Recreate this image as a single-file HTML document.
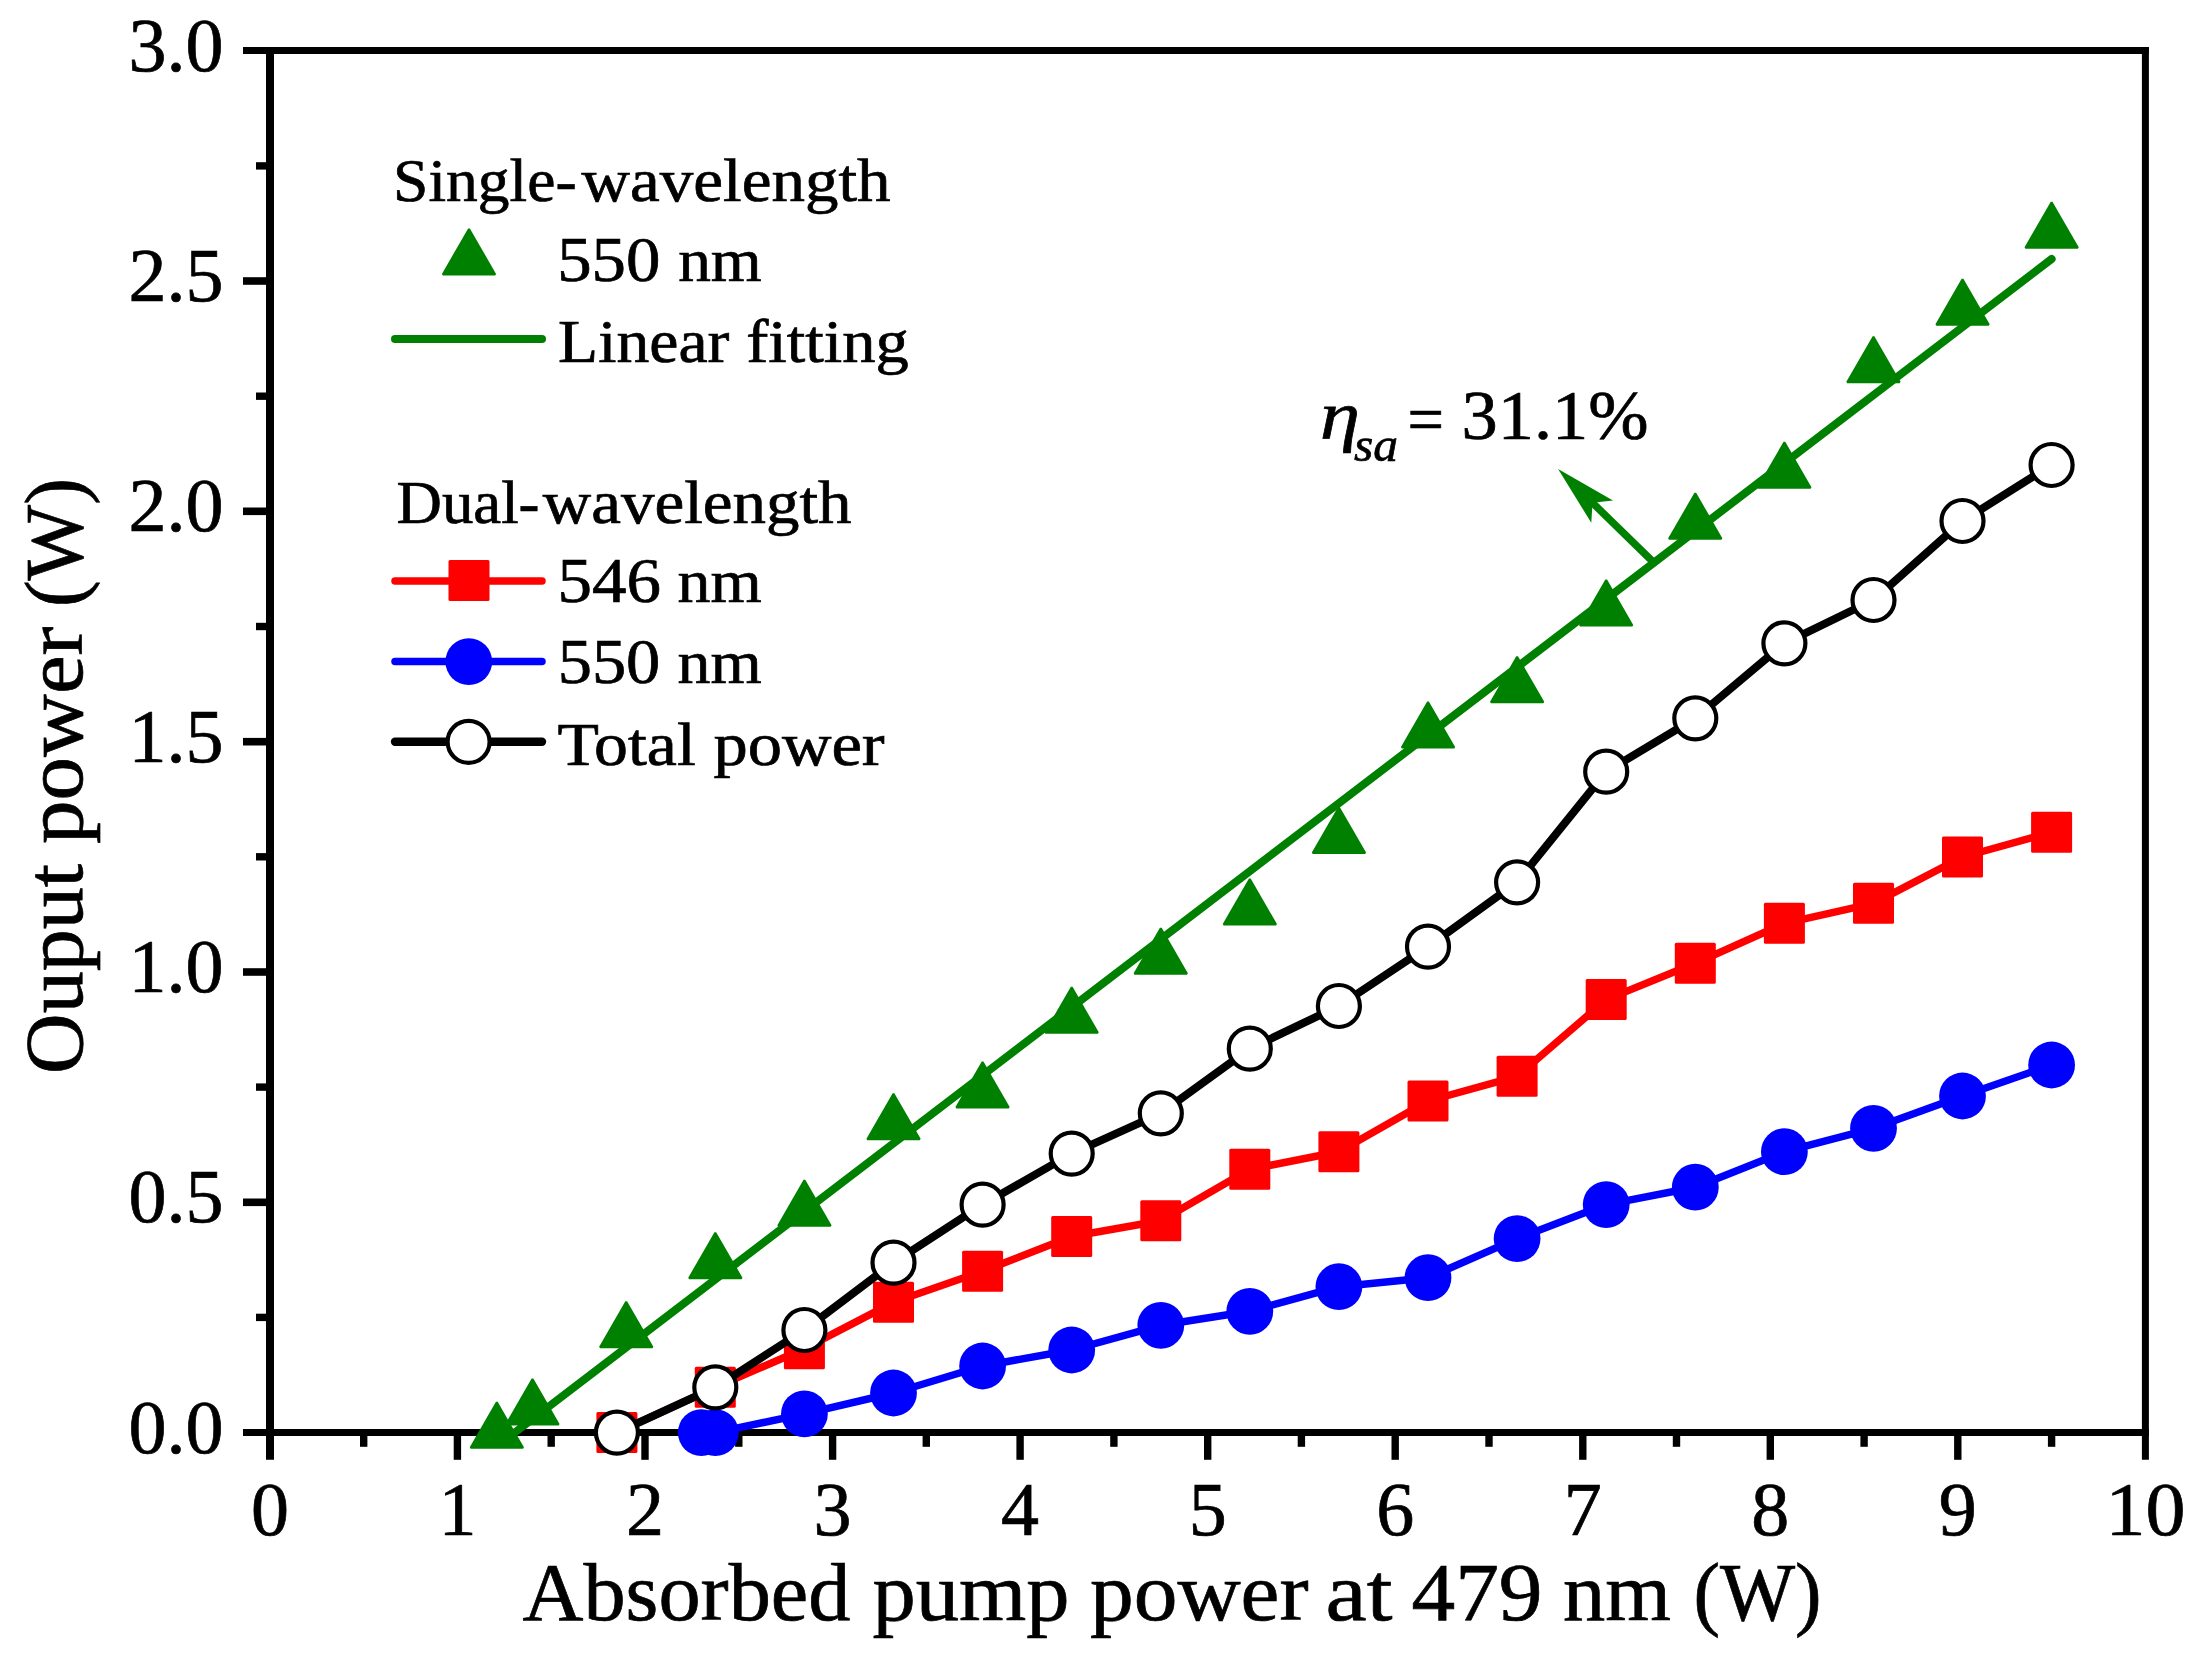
<!DOCTYPE html>
<html lang="en"><head><meta charset="utf-8"><title>Output power vs absorbed pump power</title>
<style>html,body{margin:0;padding:0;background:#fff}body{width:2205px;height:1661px;overflow:hidden}svg{display:block}text{font-family:"Liberation Serif", serif;fill:#000;stroke:#000;stroke-width:0.7px}</style></head><body>
<svg width="2205" height="1661" viewBox="0 0 2205 1661">
<rect width="2205" height="1661" fill="#fff"/>
<g stroke="#000" fill="none" stroke-linecap="butt">
<line x1="270" y1="46.95" x2="270" y2="1459.8" stroke-width="8"/>
<line x1="2145.4" y1="46.95" x2="2145.4" y2="1459.8" stroke-width="7"/>
<line x1="243" y1="50.5" x2="2148.9" y2="50.5" stroke-width="7.1"/>
<line x1="243" y1="1432.6" x2="2148.9" y2="1432.6" stroke-width="7"/>
<line x1="256" y1="1317.4" x2="268" y2="1317.4" stroke-width="7.4"/>
<line x1="243" y1="1202.3" x2="268" y2="1202.3" stroke-width="7.6"/>
<line x1="256" y1="1087.1" x2="268" y2="1087.1" stroke-width="7.4"/>
<line x1="243" y1="972.0" x2="268" y2="972.0" stroke-width="7.6"/>
<line x1="256" y1="856.8" x2="268" y2="856.8" stroke-width="7.4"/>
<line x1="243" y1="741.7" x2="268" y2="741.7" stroke-width="7.6"/>
<line x1="256" y1="626.5" x2="268" y2="626.5" stroke-width="7.4"/>
<line x1="243" y1="511.3" x2="268" y2="511.3" stroke-width="7.6"/>
<line x1="256" y1="396.2" x2="268" y2="396.2" stroke-width="7.4"/>
<line x1="243" y1="281.0" x2="268" y2="281.0" stroke-width="7.6"/>
<line x1="256" y1="165.9" x2="268" y2="165.9" stroke-width="7.4"/>
<line x1="363.7" y1="1434" x2="363.7" y2="1446.8" stroke-width="7.4"/>
<line x1="457.4" y1="1434" x2="457.4" y2="1459.8" stroke-width="7.4"/>
<line x1="551.2" y1="1434" x2="551.2" y2="1446.8" stroke-width="7.4"/>
<line x1="645.0" y1="1434" x2="645.0" y2="1459.8" stroke-width="7.4"/>
<line x1="738.8" y1="1434" x2="738.8" y2="1446.8" stroke-width="7.4"/>
<line x1="832.6" y1="1434" x2="832.6" y2="1459.8" stroke-width="7.4"/>
<line x1="926.3" y1="1434" x2="926.3" y2="1446.8" stroke-width="7.4"/>
<line x1="1020.1" y1="1434" x2="1020.1" y2="1459.8" stroke-width="7.4"/>
<line x1="1113.9" y1="1434" x2="1113.9" y2="1446.8" stroke-width="7.4"/>
<line x1="1207.7" y1="1434" x2="1207.7" y2="1459.8" stroke-width="7.4"/>
<line x1="1301.4" y1="1434" x2="1301.4" y2="1446.8" stroke-width="7.4"/>
<line x1="1395.2" y1="1434" x2="1395.2" y2="1459.8" stroke-width="7.4"/>
<line x1="1489.0" y1="1434" x2="1489.0" y2="1446.8" stroke-width="7.4"/>
<line x1="1582.8" y1="1434" x2="1582.8" y2="1459.8" stroke-width="7.4"/>
<line x1="1676.5" y1="1434" x2="1676.5" y2="1446.8" stroke-width="7.4"/>
<line x1="1770.3" y1="1434" x2="1770.3" y2="1459.8" stroke-width="7.4"/>
<line x1="1864.1" y1="1434" x2="1864.1" y2="1446.8" stroke-width="7.4"/>
<line x1="1957.8" y1="1434" x2="1957.8" y2="1459.8" stroke-width="7.4"/>
<line x1="2051.6" y1="1434" x2="2051.6" y2="1446.8" stroke-width="7.4"/>
</g>
<text x="128.5" y="1452.6" font-size="76" textLength="95" lengthAdjust="spacingAndGlyphs">0.0</text>
<text x="128.5" y="1222.3" font-size="76" textLength="95" lengthAdjust="spacingAndGlyphs">0.5</text>
<text x="128.5" y="992.0" font-size="76" textLength="95" lengthAdjust="spacingAndGlyphs">1.0</text>
<text x="128.5" y="761.7" font-size="76" textLength="95" lengthAdjust="spacingAndGlyphs">1.5</text>
<text x="128.5" y="531.3" font-size="76" textLength="95" lengthAdjust="spacingAndGlyphs">2.0</text>
<text x="128.5" y="301.0" font-size="76" textLength="95" lengthAdjust="spacingAndGlyphs">2.5</text>
<text x="128.5" y="70.7" font-size="76" textLength="95" lengthAdjust="spacingAndGlyphs">3.0</text>
<text x="250.9" y="1535.4" font-size="76" textLength="38" lengthAdjust="spacingAndGlyphs">0</text>
<text x="438.4" y="1535.4" font-size="76" textLength="38" lengthAdjust="spacingAndGlyphs">1</text>
<text x="626.0" y="1535.4" font-size="76" textLength="38" lengthAdjust="spacingAndGlyphs">2</text>
<text x="813.6" y="1535.4" font-size="76" textLength="38" lengthAdjust="spacingAndGlyphs">3</text>
<text x="1001.1" y="1535.4" font-size="76" textLength="38" lengthAdjust="spacingAndGlyphs">4</text>
<text x="1188.7" y="1535.4" font-size="76" textLength="38" lengthAdjust="spacingAndGlyphs">5</text>
<text x="1376.2" y="1535.4" font-size="76" textLength="38" lengthAdjust="spacingAndGlyphs">6</text>
<text x="1563.8" y="1535.4" font-size="76" textLength="38" lengthAdjust="spacingAndGlyphs">7</text>
<text x="1751.3" y="1535.4" font-size="76" textLength="38" lengthAdjust="spacingAndGlyphs">8</text>
<text x="1938.8" y="1535.4" font-size="76" textLength="38" lengthAdjust="spacingAndGlyphs">9</text>
<text x="2105.4" y="1535.4" font-size="76" textLength="80" lengthAdjust="spacingAndGlyphs">10</text>
<text y="1620" font-size="82"><tspan x="522.5" textLength="328.0" lengthAdjust="spacingAndGlyphs">Absorbed</tspan> <tspan x="872.5" textLength="197.0" lengthAdjust="spacingAndGlyphs">pump</tspan> <tspan x="1090.0" textLength="218.5" lengthAdjust="spacingAndGlyphs">power</tspan> <tspan x="1325.6" textLength="66.9" lengthAdjust="spacingAndGlyphs">at</tspan> <tspan x="1411.5" textLength="131.0" lengthAdjust="spacingAndGlyphs">479</tspan> <tspan x="1563.0" textLength="108.0" lengthAdjust="spacingAndGlyphs">nm</tspan> <tspan x="1693.4" textLength="128.1" lengthAdjust="spacingAndGlyphs">(W)</tspan></text>
<text transform="translate(81.5 1075) rotate(-90)" font-size="83"><tspan x="1.0" textLength="210.0" lengthAdjust="spacingAndGlyphs">Ouput</tspan> <tspan x="231.0" textLength="217.5" lengthAdjust="spacingAndGlyphs">power</tspan> <tspan x="467.9" textLength="129.1" lengthAdjust="spacingAndGlyphs">(W)</tspan></text>
<text y="201.1" font-size="61.5"><tspan x="393.1" font-size="61.5" textLength="183.44" lengthAdjust="spacingAndGlyphs">Single-</tspan><tspan x="581.58" font-size="61.5" textLength="309.05" lengthAdjust="spacingAndGlyphs">wavelength</tspan></text>
<text y="280.8" font-size="64"><tspan x="557.15" font-size="64" textLength="103.22" lengthAdjust="spacingAndGlyphs">550</tspan> <tspan x="678.15" font-size="61.5" textLength="83.62" lengthAdjust="spacingAndGlyphs">nm</tspan></text>
<text y="362" font-size="61.5"><tspan x="558.06" font-size="61.5" textLength="171.37" lengthAdjust="spacingAndGlyphs">Linear</tspan> <tspan x="746.2" font-size="61.5" textLength="162.72" lengthAdjust="spacingAndGlyphs">fitting</tspan></text>
<text y="522.8" font-size="61.5"><tspan x="396.54" font-size="61.5" textLength="142.98" lengthAdjust="spacingAndGlyphs">Dual-</tspan><tspan x="542.88" font-size="61.5" textLength="308.65" lengthAdjust="spacingAndGlyphs">wavelength</tspan></text>
<text y="601.6" font-size="64"><tspan x="557.64" font-size="64" textLength="103.46" lengthAdjust="spacingAndGlyphs">546</tspan> <tspan x="677.64" font-size="61.5" textLength="84.14" lengthAdjust="spacingAndGlyphs">nm</tspan></text>
<text y="683.4" font-size="64"><tspan x="557.67" font-size="64" textLength="102.68" lengthAdjust="spacingAndGlyphs">550</tspan> <tspan x="677.64" font-size="61.5" textLength="84.14" lengthAdjust="spacingAndGlyphs">nm</tspan></text>
<text y="764.8" font-size="61.5"><tspan x="557.42" font-size="61.5" textLength="138.38" lengthAdjust="spacingAndGlyphs">Total</tspan> <tspan x="713.45" font-size="61.5" textLength="171.21" lengthAdjust="spacingAndGlyphs">power</tspan></text>
<polygon points="469.0,228.9 495.2,274.4 442.8,274.4" fill="#008000" stroke="#008000" stroke-width="2" stroke-linejoin="bevel"/>
<line x1="395" y1="339" x2="542" y2="339" stroke="#008000" stroke-width="8" stroke-linecap="round"/>
<line x1="395" y1="581" x2="542" y2="581" stroke="#ff0000" stroke-width="7.5" stroke-linecap="round"/>
<rect x="448.5" y="560.0" width="41" height="41" rx="1.5" fill="#ff0000"/>
<line x1="395" y1="661.5" x2="542" y2="661.5" stroke="#0000ff" stroke-width="7.5" stroke-linecap="round"/>
<circle cx="468.8" cy="661.6" r="23.4" fill="#0000ff"/>
<line x1="395" y1="741.8" x2="542" y2="741.8" stroke="#000" stroke-width="8.4" stroke-linecap="round"/>
<circle cx="468.6" cy="741.8" r="21" fill="#fff" stroke="#000" stroke-width="4.2"/>
<polygon points="496.8,1402.3 523.1,1447.8 470.6,1447.8" fill="#008000" stroke="#008000" stroke-width="2" stroke-linejoin="bevel"/>
<polygon points="532.5,1379.0 558.7,1424.5 506.2,1424.5" fill="#008000" stroke="#008000" stroke-width="2" stroke-linejoin="bevel"/>
<polygon points="626.2,1301.7 652.5,1347.2 600.0,1347.2" fill="#008000" stroke="#008000" stroke-width="2" stroke-linejoin="bevel"/>
<polygon points="715.3,1232.7 741.6,1278.2 689.1,1278.2" fill="#008000" stroke="#008000" stroke-width="2" stroke-linejoin="bevel"/>
<polygon points="804.4,1180.3 830.7,1225.8 778.2,1225.8" fill="#008000" stroke="#008000" stroke-width="2" stroke-linejoin="bevel"/>
<polygon points="893.5,1093.7 919.8,1139.2 867.3,1139.2" fill="#008000" stroke="#008000" stroke-width="2" stroke-linejoin="bevel"/>
<polygon points="982.6,1062.0 1008.8,1107.5 956.3,1107.5" fill="#008000" stroke="#008000" stroke-width="2" stroke-linejoin="bevel"/>
<polygon points="1071.7,987.3 1097.9,1032.8 1045.4,1032.8" fill="#008000" stroke="#008000" stroke-width="2" stroke-linejoin="bevel"/>
<polygon points="1160.8,928.3 1187.0,973.8 1134.5,973.8" fill="#008000" stroke="#008000" stroke-width="2" stroke-linejoin="bevel"/>
<polygon points="1249.8,879.0 1276.1,924.5 1223.6,924.5" fill="#008000" stroke="#008000" stroke-width="2" stroke-linejoin="bevel"/>
<polygon points="1338.9,807.4 1365.2,852.9 1312.7,852.9" fill="#008000" stroke="#008000" stroke-width="2" stroke-linejoin="bevel"/>
<polygon points="1428.0,702.1 1454.3,747.6 1401.8,747.6" fill="#008000" stroke="#008000" stroke-width="2" stroke-linejoin="bevel"/>
<polygon points="1517.1,656.7 1543.4,702.2 1490.9,702.2" fill="#008000" stroke="#008000" stroke-width="2" stroke-linejoin="bevel"/>
<polygon points="1606.2,579.9 1632.4,625.4 1579.9,625.4" fill="#008000" stroke="#008000" stroke-width="2" stroke-linejoin="bevel"/>
<polygon points="1695.3,493.3 1721.5,538.8 1669.0,538.8" fill="#008000" stroke="#008000" stroke-width="2" stroke-linejoin="bevel"/>
<polygon points="1784.4,442.3 1810.6,487.8 1758.1,487.8" fill="#008000" stroke="#008000" stroke-width="2" stroke-linejoin="bevel"/>
<polygon points="1873.5,336.7 1899.7,382.2 1847.2,382.2" fill="#008000" stroke="#008000" stroke-width="2" stroke-linejoin="bevel"/>
<polygon points="1962.5,279.3 1988.8,324.8 1936.3,324.8" fill="#008000" stroke="#008000" stroke-width="2" stroke-linejoin="bevel"/>
<polygon points="2051.6,202.3 2077.9,247.8 2025.4,247.8" fill="#008000" stroke="#008000" stroke-width="2" stroke-linejoin="bevel"/>
<line x1="514.7" y1="1432.6" x2="2051.6" y2="259.0" stroke="#008000" stroke-width="8" stroke-linecap="round"/>
<line x1="1653.2" y1="562" x2="1585" y2="495.5" stroke="#008000" stroke-width="7.4"/>
<polygon points="1558.1,469.1 1613,500.6 1592.5,502.8 1591.3,522.8" fill="#008000"/>
<polyline fill="none" stroke="#ff0000" stroke-width="7.5" stroke-linejoin="round" points="616.9,1432.6 715.3,1387.3 804.4,1348.7 893.5,1302.3 982.6,1271.3 1071.7,1236.5 1160.8,1220.7 1249.8,1169.3 1338.9,1151.7 1428.0,1101.0 1517.1,1076.3 1606.2,999.6 1695.3,963.3 1784.4,923.3 1873.5,903.3 1962.5,857.0 2051.6,832.3"/>
<rect x="596.4" y="1412.1" width="41" height="41" rx="1.5" fill="#ff0000"/>
<rect x="694.8" y="1366.8" width="41" height="41" rx="1.5" fill="#ff0000"/>
<rect x="783.9" y="1328.2" width="41" height="41" rx="1.5" fill="#ff0000"/>
<rect x="873.0" y="1281.8" width="41" height="41" rx="1.5" fill="#ff0000"/>
<rect x="962.1" y="1250.8" width="41" height="41" rx="1.5" fill="#ff0000"/>
<rect x="1051.2" y="1216.0" width="41" height="41" rx="1.5" fill="#ff0000"/>
<rect x="1140.3" y="1200.2" width="41" height="41" rx="1.5" fill="#ff0000"/>
<rect x="1229.3" y="1148.8" width="41" height="41" rx="1.5" fill="#ff0000"/>
<rect x="1318.4" y="1131.2" width="41" height="41" rx="1.5" fill="#ff0000"/>
<rect x="1407.5" y="1080.5" width="41" height="41" rx="1.5" fill="#ff0000"/>
<rect x="1496.6" y="1055.8" width="41" height="41" rx="1.5" fill="#ff0000"/>
<rect x="1585.7" y="979.1" width="41" height="41" rx="1.5" fill="#ff0000"/>
<rect x="1674.8" y="942.8" width="41" height="41" rx="1.5" fill="#ff0000"/>
<rect x="1763.9" y="902.8" width="41" height="41" rx="1.5" fill="#ff0000"/>
<rect x="1853.0" y="882.8" width="41" height="41" rx="1.5" fill="#ff0000"/>
<rect x="1942.0" y="836.5" width="41" height="41" rx="1.5" fill="#ff0000"/>
<rect x="2031.1" y="811.8" width="41" height="41" rx="1.5" fill="#ff0000"/>
<polyline fill="none" stroke="#0000ff" stroke-width="7.5" stroke-linejoin="round" points="701.3,1432.6 715.3,1432.6 804.4,1413.9 893.5,1393.0 982.6,1366.0 1071.7,1350.0 1160.8,1325.3 1249.8,1311.3 1338.9,1286.7 1428.0,1277.7 1517.1,1238.6 1606.2,1204.6 1695.3,1187.2 1784.4,1151.7 1873.5,1128.3 1962.5,1096.0 2051.6,1065.0"/>
<circle cx="701.3" cy="1432.6" r="23.4" fill="#0000ff"/>
<circle cx="715.3" cy="1432.6" r="23.4" fill="#0000ff"/>
<circle cx="804.4" cy="1413.9" r="23.4" fill="#0000ff"/>
<circle cx="893.5" cy="1393.0" r="23.4" fill="#0000ff"/>
<circle cx="982.6" cy="1366.0" r="23.4" fill="#0000ff"/>
<circle cx="1071.7" cy="1350.0" r="23.4" fill="#0000ff"/>
<circle cx="1160.8" cy="1325.3" r="23.4" fill="#0000ff"/>
<circle cx="1249.8" cy="1311.3" r="23.4" fill="#0000ff"/>
<circle cx="1338.9" cy="1286.7" r="23.4" fill="#0000ff"/>
<circle cx="1428.0" cy="1277.7" r="23.4" fill="#0000ff"/>
<circle cx="1517.1" cy="1238.6" r="23.4" fill="#0000ff"/>
<circle cx="1606.2" cy="1204.6" r="23.4" fill="#0000ff"/>
<circle cx="1695.3" cy="1187.2" r="23.4" fill="#0000ff"/>
<circle cx="1784.4" cy="1151.7" r="23.4" fill="#0000ff"/>
<circle cx="1873.5" cy="1128.3" r="23.4" fill="#0000ff"/>
<circle cx="1962.5" cy="1096.0" r="23.4" fill="#0000ff"/>
<circle cx="2051.6" cy="1065.0" r="23.4" fill="#0000ff"/>
<polyline fill="none" stroke="#000" stroke-width="8" stroke-linejoin="round" points="616.9,1432.6 715.3,1387.3 804.4,1330.0 893.5,1262.7 982.6,1204.7 1071.7,1153.6 1160.8,1113.3 1249.8,1048.7 1338.9,1006.0 1428.0,946.7 1517.1,882.3 1606.2,771.7 1695.3,718.3 1784.4,643.3 1873.5,600.0 1962.5,521.0 2051.6,465.0"/>
<circle cx="616.9" cy="1432.6" r="21" fill="#fff" stroke="#000" stroke-width="4.2"/>
<circle cx="715.3" cy="1387.3" r="21" fill="#fff" stroke="#000" stroke-width="4.2"/>
<circle cx="804.4" cy="1330.0" r="21" fill="#fff" stroke="#000" stroke-width="4.2"/>
<circle cx="893.5" cy="1262.7" r="21" fill="#fff" stroke="#000" stroke-width="4.2"/>
<circle cx="982.6" cy="1204.7" r="21" fill="#fff" stroke="#000" stroke-width="4.2"/>
<circle cx="1071.7" cy="1153.6" r="21" fill="#fff" stroke="#000" stroke-width="4.2"/>
<circle cx="1160.8" cy="1113.3" r="21" fill="#fff" stroke="#000" stroke-width="4.2"/>
<circle cx="1249.8" cy="1048.7" r="21" fill="#fff" stroke="#000" stroke-width="4.2"/>
<circle cx="1338.9" cy="1006.0" r="21" fill="#fff" stroke="#000" stroke-width="4.2"/>
<circle cx="1428.0" cy="946.7" r="21" fill="#fff" stroke="#000" stroke-width="4.2"/>
<circle cx="1517.1" cy="882.3" r="21" fill="#fff" stroke="#000" stroke-width="4.2"/>
<circle cx="1606.2" cy="771.7" r="21" fill="#fff" stroke="#000" stroke-width="4.2"/>
<circle cx="1695.3" cy="718.3" r="21" fill="#fff" stroke="#000" stroke-width="4.2"/>
<circle cx="1784.4" cy="643.3" r="21" fill="#fff" stroke="#000" stroke-width="4.2"/>
<circle cx="1873.5" cy="600.0" r="21" fill="#fff" stroke="#000" stroke-width="4.2"/>
<circle cx="1962.5" cy="521.0" r="21" fill="#fff" stroke="#000" stroke-width="4.2"/>
<circle cx="2051.6" cy="465.0" r="21" fill="#fff" stroke="#000" stroke-width="4.2"/>
<text x="1320" y="438.9" font-size="68" font-style="italic" stroke-width="0.3" textLength="40" lengthAdjust="spacingAndGlyphs">η</text>
<text x="1354" y="460.5" font-size="48" font-style="italic" stroke-width="0.3" textLength="44" lengthAdjust="spacingAndGlyphs">sa</text>
<text x="1407.5" y="442.4" font-size="68" text-anchor="start" textLength="36.5" lengthAdjust="spacingAndGlyphs">=</text>
<text x="1461.5" y="438.9" font-size="69" text-anchor="start" textLength="187" lengthAdjust="spacingAndGlyphs">31.1%</text>
</svg></body></html>
